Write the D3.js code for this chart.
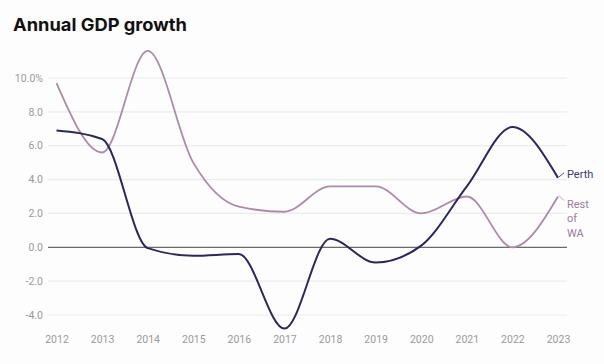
<!DOCTYPE html>
<html><head><meta charset="utf-8">
<script src="https://cdn.jsdelivr.net/npm/d3@7"></script>
<style>body{margin:0;background:#fdfdfe;}svg{display:block;}</style>
</head><body>
<script>
const years = [2012,2013,2014,2015,2016,2017,2018,2019,2020,2021,2022,2023];
const perth = [6.9,6.4,-0.05,-0.5,-0.4,-4.8,0.5,-0.9,0.1,3.6,7.1,4.1];
const restOfWA = [9.7,5.6,11.6,5.0,2.4,2.1,3.6,3.6,2.0,3.0,0.0,3.0];
const yTicks = [-4,-2,0,2,4,6,8,10];
const title = "Annual GDP growth";

const W = 604, H = 364;
const svg = d3.select("body").append("svg").attr("width", W).attr("height", H);
svg.append("rect").attr("width", W).attr("height", H).attr("fill", "#fdfdfe");

const x = d3.scalePoint().domain(years).range([56.5, 558]);
const y = d3.scaleLinear().domain([0, 10]).range([247.3, 78]);

svg.append("text").attr("x", 13).attr("y", 31).text(title)
  .attr("font-family", "Inter, Roboto, sans-serif").attr("font-weight", 700)
  .attr("font-size", 17.5).attr("fill", "#111")
  .attr("textLength", 174).attr("lengthAdjust", "spacingAndGlyphs");

// grid
const grid = svg.append("g");
grid.selectAll("line").data(yTicks).join("line")
  .attr("x1", 48).attr("x2", 567)
  .attr("y1", d => y(d)).attr("y2", d => y(d))
  .attr("stroke", d => d === 0 ? "#6a6a6a" : "#ececec")
  .attr("stroke-width", 1.2);

// y labels
svg.append("g").selectAll("text").data(yTicks).join("text")
  .attr("x", 43).attr("y", d => y(d)).attr("dy", "0.35em")
  .attr("text-anchor", "end")
  .attr("font-family", "Roboto, sans-serif").attr("font-size", 10.5)
  .attr("fill", "#9a9a9a")
  .text(d => d === 10 ? "10.0%" : d.toFixed(1));

// x labels
const xAxis = d3.axisBottom(x).tickSize(0).tickPadding(0);
const gx = svg.append("g").attr("transform", "translate(0,336)").call(xAxis);
gx.select(".domain").remove();
gx.selectAll("text").attr("font-family", "Roboto, sans-serif").attr("font-size", 10.5)
  .attr("fill", "#9a9a9a");

const line = d3.line().x((d,i) => x(years[i])).y(d => y(d)).curve(d3.curveMonotoneX);

svg.append("path").datum(restOfWA).attr("d", line)
  .attr("fill", "none").attr("stroke", "#ac8aab").attr("stroke-width", 1.8);
svg.append("path").datum(perth).attr("d", line)
  .attr("fill", "none").attr("stroke", "#2a2858").attr("stroke-width", 2);

// labels
const lx = x(2023);
svg.append("line").attr("x1", lx + 1).attr("y1", y(perth[11]) - 1)
  .attr("x2", lx + 6).attr("y2", y(perth[11]) - 5).attr("stroke", "#2a2858").attr("stroke-width", 0.8);
svg.append("text").attr("x", lx + 9).attr("y", y(perth[11]) - 3.5).attr("dy", "0.35em")
  .attr("font-family", "Roboto, sans-serif").attr("font-size", 11).attr("fill", "#3b3a6b")
  .text("Perth");
svg.append("line").attr("x1", lx + 1).attr("y1", y(restOfWA[11]) - 1)
  .attr("x2", lx + 6).attr("y2", y(restOfWA[11]) + 4).attr("stroke", "#ac8aab").attr("stroke-width", 0.8);
const rt = svg.append("text").attr("font-family", "Roboto, sans-serif").attr("font-size", 11)
  .attr("fill", "#9c7b9b");
["Rest","of","WA"].forEach((s,i) => {
  rt.append("tspan").attr("x", lx + 9).attr("y", y(restOfWA[11]) + 11 + i * 14.5).text(s);
});
</script>
</body></html>
